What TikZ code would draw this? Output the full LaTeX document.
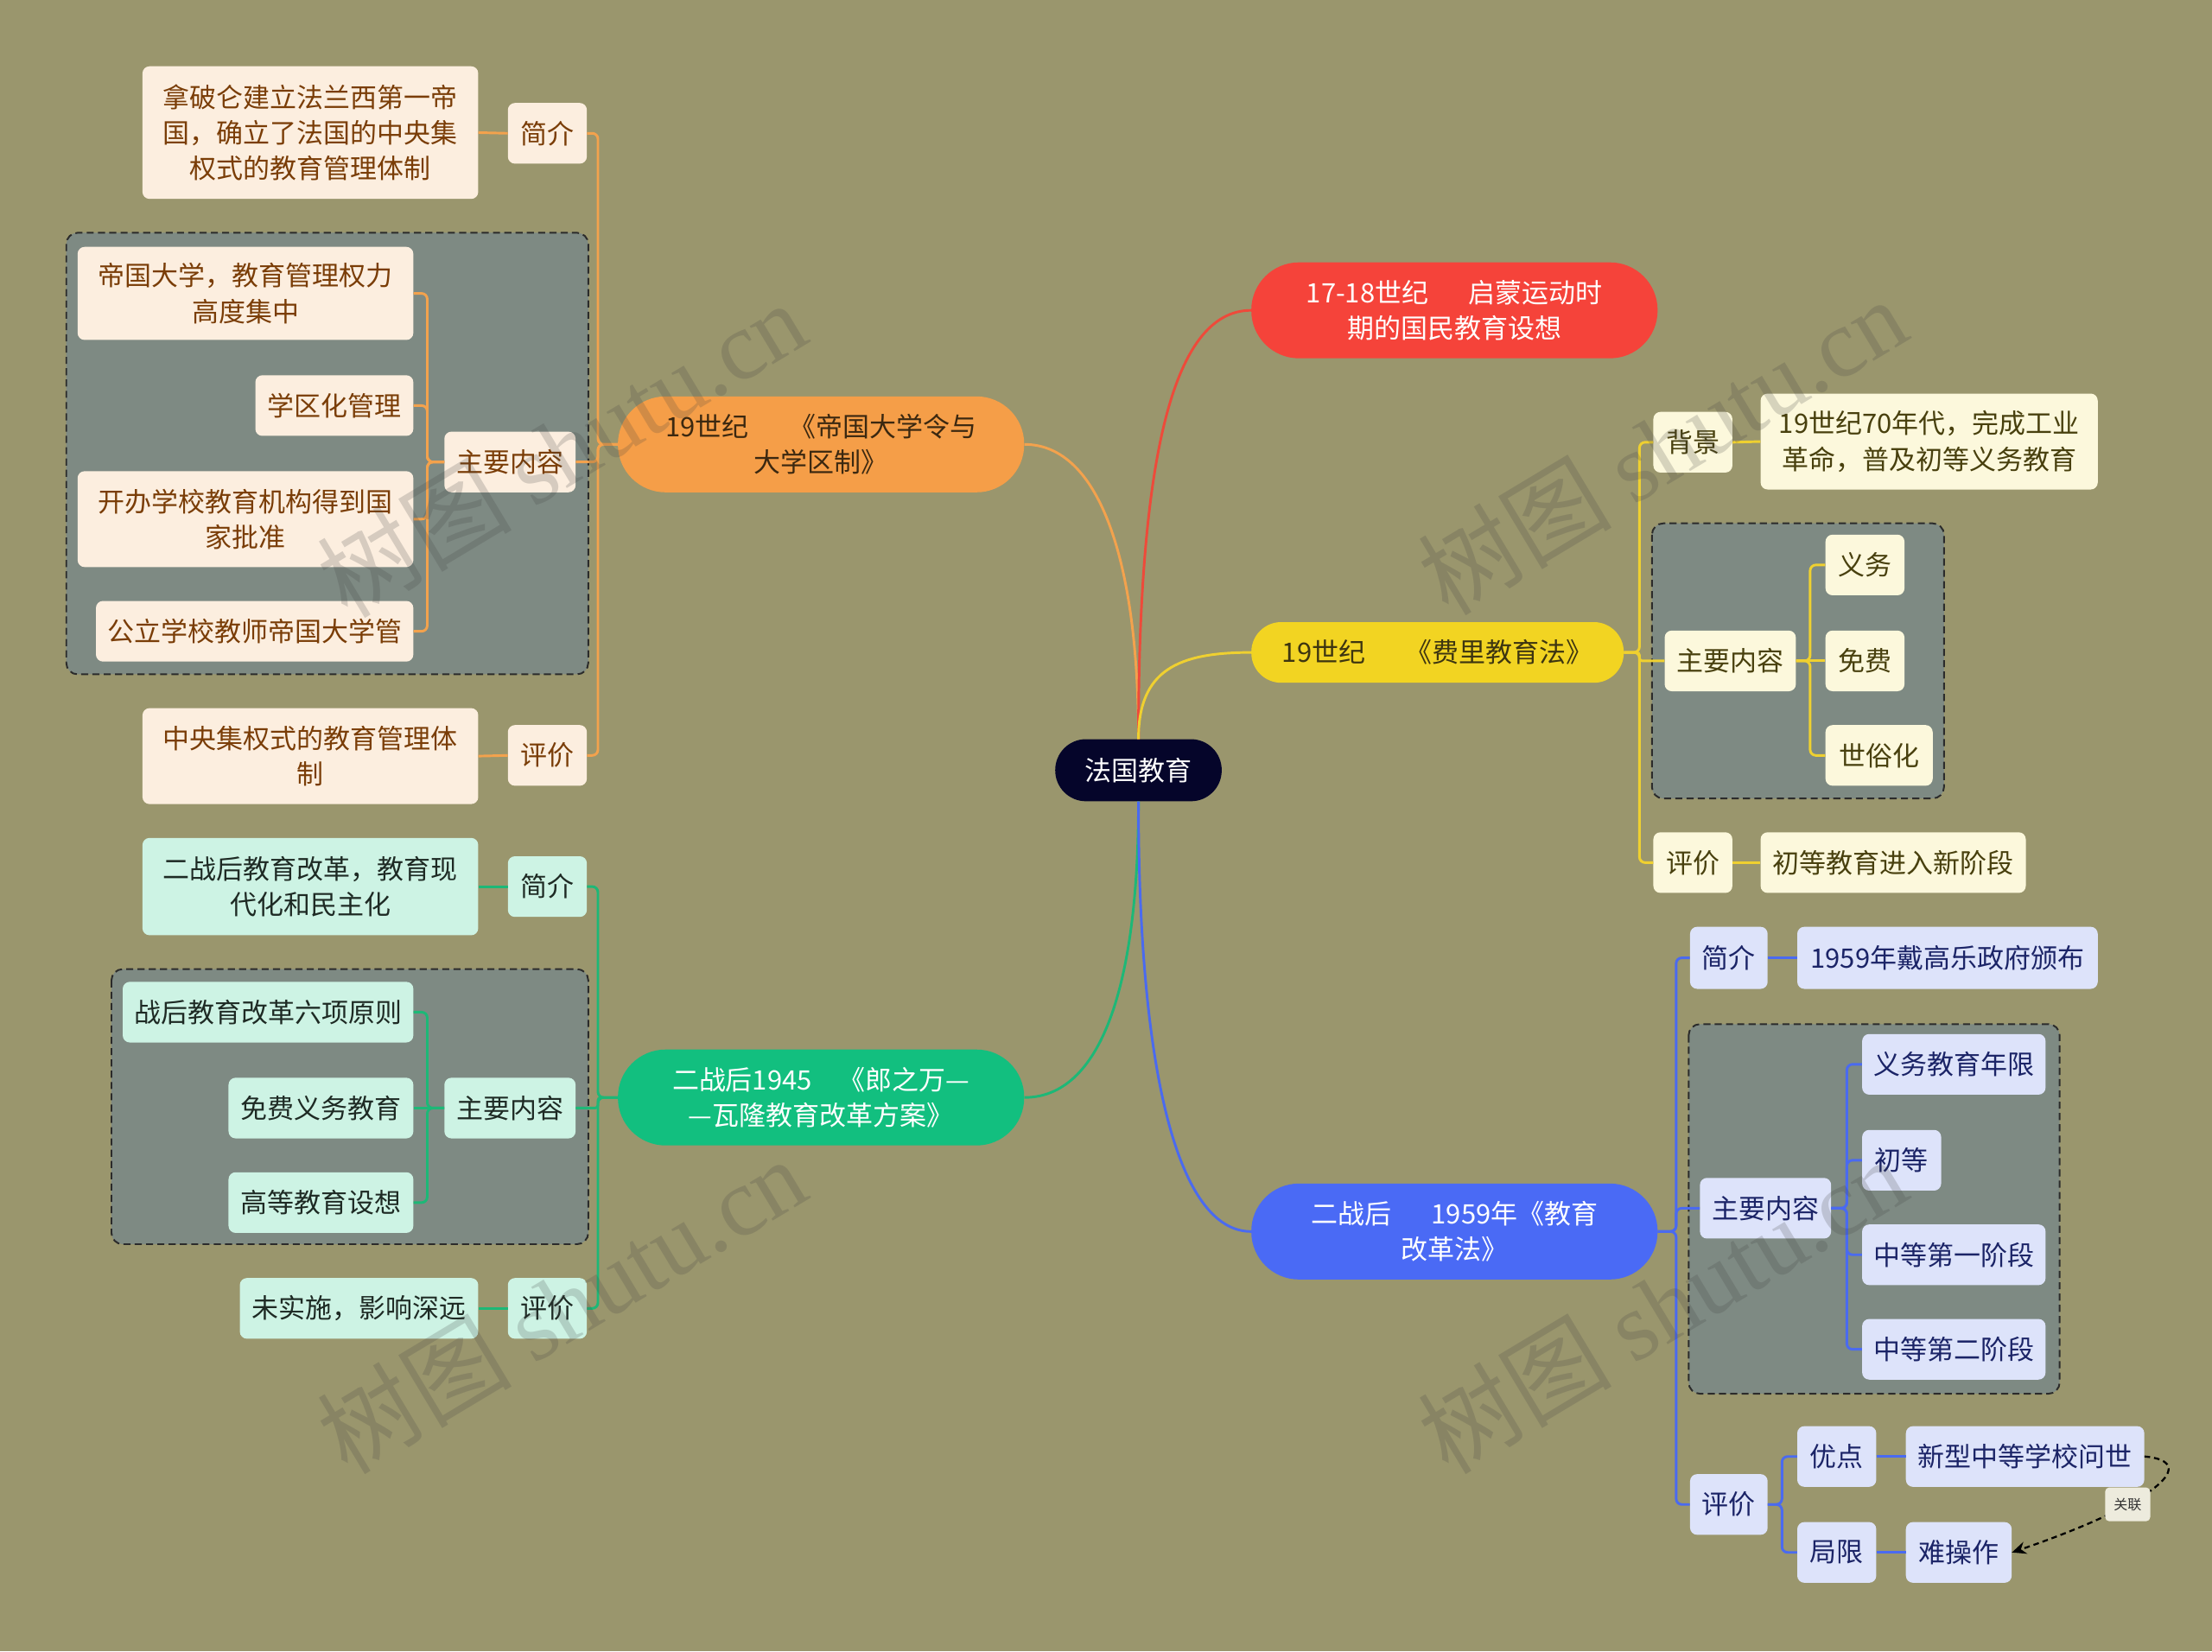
\documentclass[tikz,border=0pt]{standalone}
\usepackage{fontspec}
\setmainfont{Noto Sans CJK SC}
\newfontfamily\wmserif{Liberation Serif}
\usetikzlibrary{arrows.meta}
\definecolor{bgcol}{HTML}{9A966D}
\definecolor{grpfill}{HTML}{7E8A83}
\definecolor{grpline}{HTML}{2B2B2B}
\definecolor{centfill}{HTML}{05052A}
\definecolor{redfill}{HTML}{F5433A}
\definecolor{redline}{HTML}{EE4A3A}
\definecolor{yelfill}{HTML}{F2D422}
\definecolor{yelline}{HTML}{EFD030}
\definecolor{yeltext}{HTML}{3D3510}
\definecolor{yelkid}{HTML}{FCF8DC}
\definecolor{yelkidtext}{HTML}{48400E}
\definecolor{orafill}{HTML}{F59E48}
\definecolor{oraline}{HTML}{F3A24D}
\definecolor{oratext}{HTML}{3B2810}
\definecolor{orakid}{HTML}{FCEEDF}
\definecolor{orakidtext}{HTML}{7A3D07}
\definecolor{grefill}{HTML}{12BF7F}
\definecolor{greline}{HTML}{1DB877}
\definecolor{grekid}{HTML}{CDF3E4}
\definecolor{grekidtext}{HTML}{1E2A24}
\definecolor{blufill}{HTML}{4A6AF5}
\definecolor{bluline}{HTML}{4A6AF0}
\definecolor{blukid}{HTML}{DDE3FA}
\definecolor{blukidtext}{HTML}{1B2467}
\definecolor{relfill}{HTML}{EDEBDD}
\tikzset{
  base/.style={align=center, inner sep=0pt, font=\fontsize{27pt}{36pt}\selectfont},
  wh/.style 2 args={minimum width=#1*0.5mm, minimum height=#2*0.5mm},
  kid/.style={base, rounded corners=2.5mm},
  okid/.style={kid, fill=orakid, text=orakidtext},
  ykid/.style={kid, fill=yelkid, text=yelkidtext},
  gkid/.style={kid, fill=grekid, text=grekidtext},
  bkid/.style={kid, fill=blukid, text=blukidtext},
  grp/.style={fill=grpfill, draw=grpline, line width=0.6mm, dash pattern=on 2.5mm off 1.5mm, rounded corners=4mm},
  mainl/.style={line width=0.9mm},
  ol/.style={draw=oraline, line width=0.9mm, rounded corners=2mm},
  yl/.style={draw=yelline, line width=0.9mm, rounded corners=2mm},
  gl/.style={draw=greline, line width=0.9mm, rounded corners=2mm},
  bl/.style={draw=bluline, line width=0.9mm, rounded corners=2mm},
  wm/.style={text=black!75, text opacity=0.2, font=\fontsize{98pt}{100pt}\selectfont, inner sep=0pt, rotate=31},
}
\begin{document}
\begin{tikzpicture}[x=0.5mm,y=-0.5mm]
\fill[bgcol] (0,0) rectangle (1568,1170.5);
\useasboundingbox (0,0) rectangle (1568,1170.5);

% group boxes
\path[grp] (47,165) rectangle (417,478);
\path[grp] (79,687) rectangle (417,882);
\path[grp] (1171,371) rectangle (1378,566);
\path[grp] (1197,726) rectangle (1460,988);

% center and main branches
\node[base, wh={118}{44}, fill=centfill, text=white, rounded corners=10.9mm] (c) at (807,546) {法国教育};
\node[base, wh={288}{68}, fill=redfill, text=white, rounded corners=16.9mm] (r) at (1031,220) {17-18世纪\hspace{1.5em}启蒙运动时\\期的国民教育设想};
\node[base, wh={264}{43}, fill=yelfill, text=yeltext, rounded corners=10.6mm] (y) at (1019,462.5) {19世纪\hspace{1.5em}《费里教育法》};
\node[base, wh={288}{68}, fill=orafill, text=oratext, rounded corners=16.9mm] (o) at (582,315) {19世纪\hspace{1.5em}《帝国大学令与\\大学区制》};
\node[base, wh={288}{68}, fill=grefill, text=white, rounded corners=16.9mm] (g) at (582,778) {二战后1945\hspace{1em}《郎之万—\\—瓦隆教育改革方案》};
\node[base, wh={288}{68}, fill=blufill, text=white, rounded corners=16.9mm] (b) at (1031,873) {二战后\hspace{1.5em}1959年《教育\\改革法》};

% orange children
\node[okid, wh={56}{43}] (oj) at (388,94.5) {简介};
\node[okid, wh={238}{94}] (on) at (220,94) {拿破仑建立法兰西第一帝\\国，确立了法国的中央集\\权式的教育管理体制};
\node[okid, wh={93}{43}] (oz) at (361.5,327.5) {主要内容};
\node[okid, wh={238}{66}] (o1) at (174,208) {帝国大学，教育管理权力\\高度集中};
\node[okid, wh={112}{43}] (o2) at (237,287.5) {学区化管理};
\node[okid, wh={238}{68}] (o3) at (174,368) {开办学校教育机构得到国\\家批准};
\node[okid, wh={225}{43}] (o4) at (180.5,447.5) {公立学校教师帝国大学管};
\node[okid, wh={56}{43}] (op) at (388,535.5) {评价};
\node[okid, wh={238}{68}] (oe) at (220,536) {中央集权式的教育管理体\\制};

% green children
\node[gkid, wh={56}{43}] (gj) at (388,628.5) {简介};
\node[gkid, wh={238}{69}] (gn) at (220,628.5) {二战后教育改革，教育现\\代化和民主化};
\node[gkid, wh={93}{43}] (gz) at (361.5,785.5) {主要内容};
\node[gkid, wh={206}{43}] (g1) at (190,717.5) {战后教育改革六项原则};
\node[gkid, wh={131}{43}] (g2) at (227.5,785.5) {免费义务教育};
\node[gkid, wh={131}{43}] (g3) at (227.5,852.5) {高等教育设想};
\node[gkid, wh={56}{43}] (gp) at (388,927.5) {评价};
\node[gkid, wh={169}{43}] (ge) at (254.5,927.5) {未实施，影响深远};

% yellow children
\node[ykid, wh={56}{43}] (yb) at (1200,313.5) {背景};
\node[ykid, wh={239}{68}] (ybn) at (1367.5,313) {19世纪70年代，完成工业\\革命，普及初等义务教育};
\node[ykid, wh={93}{43}] (yz) at (1226.5,468.5) {主要内容};
\node[ykid, wh={56}{43}] (y1) at (1322,400.5) {义务};
\node[ykid, wh={56}{43}] (y2) at (1322,468.5) {免费};
\node[ykid, wh={76}{43}] (y3) at (1332,535.5) {世俗化};
\node[ykid, wh={56}{43}] (yp) at (1200,611.5) {评价};
\node[ykid, wh={188}{43}] (ye) at (1342,611.5) {初等教育进入新阶段};

% blue children
\node[bkid, wh={55}{44}] (bj) at (1225.5,679) {简介};
\node[bkid, wh={213}{44}] (bjn) at (1380.5,679) {1959年戴高乐政府颁布};
\node[bkid, wh={93}{43}] (bz) at (1251.5,856.5) {主要内容};
\node[bkid, wh={130}{43}] (b1) at (1385,754.5) {义务教育年限};
\node[bkid, wh={56}{43}] (b2) at (1348,822.5) {初等};
\node[bkid, wh={130}{43}] (b3) at (1385,889.5) {中等第一阶段};
\node[bkid, wh={130}{43}] (b4) at (1385,956.5) {中等第二阶段};
\node[bkid, wh={55}{43}] (bp) at (1225.5,1066.5) {评价};
\node[bkid, wh={56}{43}] (by) at (1302,1032.5) {优点};
\node[bkid, wh={169}{43}] (byn) at (1435.5,1032.5) {新型中等学校问世};
\node[bkid, wh={56}{43}] (bl) at (1302,1100.5) {局限};
\node[bkid, wh={75}{43}] (bln) at (1388.5,1100.5) {难操作};

% main connectors
\draw[mainl, draw=oraline] (c.north) .. controls (807,400) and (780,315) .. (o.east);
\draw[mainl, draw=redline] (c.north) .. controls (807,330) and (830,220) .. (r.west);
\draw[mainl, draw=yelline] (c.north) .. controls (807,475) and (835,462.5) .. (y.west);
\draw[mainl, draw=greline] (c.south) .. controls (807,700) and (780,778) .. (g.east);
\draw[mainl, draw=bluline] (c.south) .. controls (807,760) and (835,873) .. (b.west);

% orange connectors
\draw[ol] (o.west) -- ++(-14,0) |- (oj.east);
\draw[ol] (o.west) -- ++(-14,0) |- (oz.east);
\draw[ol] (o.west) -- ++(-14,0) |- (op.east);
\draw[ol] (oj.west) -- (on.east);
\draw[ol] (op.west) -- (oe.east);
\draw[ol] (oz.west) -- ++(-12,0) |- (o1.east);
\draw[ol] (oz.west) -- ++(-12,0) |- (o2.east);
\draw[ol] (oz.west) -- ++(-12,0) |- (o3.east);
\draw[ol] (oz.west) -- ++(-12,0) |- (o4.east);

% green connectors
\draw[gl] (g.west) -- ++(-14,0) |- (gj.east);
\draw[gl, rounded corners=1mm] (g.west) -- ++(-14,0) |- (gz.east);
\draw[gl] (g.west) -- ++(-14,0) |- (gp.east);
\draw[gl] (gj.west) -- (gn.east);
\draw[gl] (gp.west) -- (ge.east);
\draw[gl] (gz.west) -- ++(-12,0) |- (g1.east);
\draw[gl] (gz.west) -- (g2.east);
\draw[gl] (gz.west) -- ++(-12,0) |- (g3.east);

% yellow connectors
\draw[yl] (y.east) -- ++(11,0) |- (yb.west);
\draw[yl, rounded corners=1mm] (y.east) -- ++(11,0) |- (yz.west);
\draw[yl] (y.east) -- ++(11,0) |- (yp.west);
\draw[yl] (yb.east) -- (ybn.west);
\draw[yl] (yp.east) -- (ye.west);
\draw[yl] (yz.east) -- ++(10,0) |- (y1.west);
\draw[yl] (yz.east) -- (y2.west);
\draw[yl] (yz.east) -- ++(10,0) |- (y3.west);

% blue connectors
\draw[bl] (b.east) -- ++(13,0) |- (bj.west);
\draw[bl] (b.east) -- ++(13,0) |- (bz.west);
\draw[bl] (b.east) -- ++(13,0) |- (bp.west);
\draw[bl] (bj.east) -- (bjn.west);
\draw[bl] (bz.east) -- ++(11,0) |- (b1.west);
\draw[bl] (bz.east) -- ++(11,0) |- (b2.west);
\draw[bl] (bz.east) -- ++(11,0) |- (b3.west);
\draw[bl] (bz.east) -- ++(11,0) |- (b4.west);
\draw[bl] (bp.east) -- ++(10,0) |- (by.west);
\draw[bl] (bp.east) -- ++(10,0) |- (bl.west);
\draw[bl] (by.east) -- (byn.west);
\draw[bl] (bl.east) -- (bln.west);

% relation
\draw[black, line width=0.7mm, dash pattern=on 2mm off 1.4mm, -{Stealth[length=5mm,width=4.4mm]}]
  (byn.east) .. controls (1560,1036) and (1530,1065) .. (bln.east)
  node[pos=0.65, fill=relfill, text=black!80, rounded corners=1.5mm, inner sep=0pt, minimum width=16mm, minimum height=12mm, font=\fontsize{14pt}{16pt}\selectfont, solid] (rl) {关联};

% watermarks
\node[wm] (wm1) at (398,318) {树图 {\wmserif shutu.cn}};
\node[wm] (wm2) at (398,925) {树图 {\wmserif shutu.cn}};
\node[wm] (wm3) at (1178,316) {树图 {\wmserif shutu.cn}};
\node[wm] (wm4) at (1178,925) {树图 {\wmserif shutu.cn}};
\end{tikzpicture}
\end{document}
